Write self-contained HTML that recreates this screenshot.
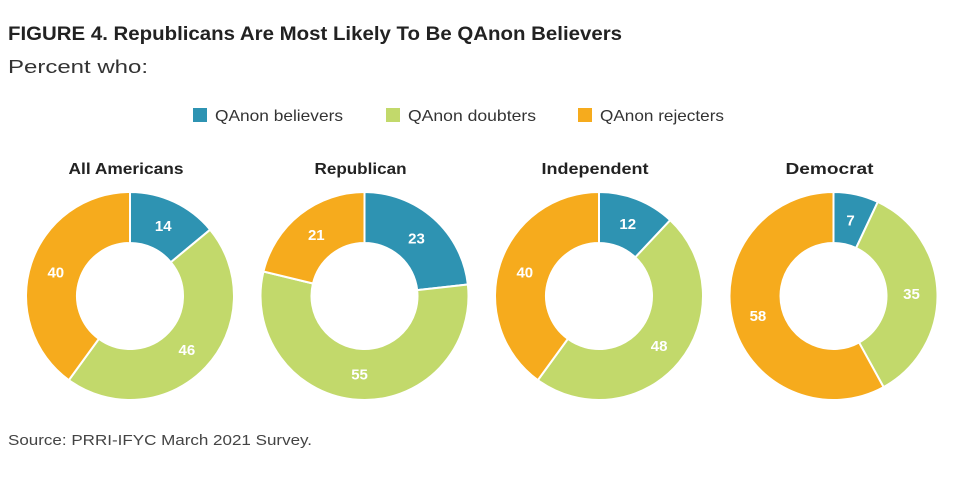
<!DOCTYPE html>
<html><head><meta charset="utf-8"><style>
body{margin:0;background:#fff;width:980px;height:473px;overflow:hidden;font-family:"Liberation Sans",sans-serif}
</style></head><body>
<svg width="980" height="473">
<text x="8" y="40" font-size="19" font-weight="bold" fill="#222" textLength="614" lengthAdjust="spacingAndGlyphs">FIGURE 4. Republicans Are Most Likely To Be QAnon Believers</text>
<text x="8" y="73" font-size="18" fill="#333" textLength="140" lengthAdjust="spacingAndGlyphs">Percent who:</text>
<g id="legend"></g>
<g id="donuts"></g>
<text x="8" y="445" font-size="14.5" fill="#444" textLength="304" lengthAdjust="spacingAndGlyphs">Source: PRRI-IFYC March 2021 Survey.</text>
</svg>
<script>
const groups=["All Americans","Republican","Independent","Democrat"];
const seriesNames=["QAnon believers","QAnon doubters","QAnon rejecters"];
const believers=[14,23,12,7];
const doubters=[46,55,48,35];
const rejecters=[40,21,40,58];
const colors=["#2E93B2","#C2D96B","#F6AB1D"];
const NS="http://www.w3.org/2000/svg";
function mk(t,a,p){const e=document.createElementNS(NS,t);for(const k in a)e.setAttribute(k,a[k]);p.appendChild(e);return e;}
const leg=document.getElementById('legend');
const legX=[193,386,578];
const legW=[128,128,124];
const titleW=[115,92,107,88];
seriesNames.forEach((n,i)=>{
 const r=mk('rect',{x:legX[i],y:108,width:14,height:14,fill:colors[i]},leg);
 
 
 const t=mk('text',{x:legX[i]+22,y:121,'font-size':16,fill:'#333',textLength:legW[i],lengthAdjust:'spacingAndGlyphs'},leg);
 t.textContent=n;
 
 
});
const dg=document.getElementById('donuts');
const cx0=130,dx=234.5,cy=296,R=104,r0=53;
function pt(rad,a){return [rad*Math.sin(a),-rad*Math.cos(a)];}
groups.forEach((g,gi)=>{
 const cx=cx0+gi*dx;
 const grp=mk('g',{},dg);
 
 
 const tt=mk('text',{x:cx-4,y:174,'text-anchor':'middle','font-size':16,'font-weight':'bold',fill:'#222',textLength:titleW[gi],lengthAdjust:'spacingAndGlyphs'},grp);
 tt.textContent=g;
 
 
 const vals=[believers[gi],doubters[gi],rejecters[gi]];
 const tot=vals.reduce((a,b)=>a+b,0);
 let a=0;
 vals.forEach((v,i)=>{
  const a1=a+v/tot*2*Math.PI;
  const [x1,y1]=pt(R,a),[x2,y2]=pt(R,a1),[x3,y3]=pt(r0,a1),[x4,y4]=pt(r0,a);
  const lg=(a1-a)>Math.PI?1:0;
  const d=`M${cx+x1},${cy+y1}A${R},${R} 0 ${lg} 1 ${cx+x2},${cy+y2}L${cx+x3},${cy+y3}A${r0},${r0} 0 ${lg} 0 ${cx+x4},${cy+y4}Z`;
  const p=mk('path',{d:d,fill:colors[i],stroke:'#fff','stroke-width':2},grp);
  
  
  const m=(a+a1)/2;const [lx,ly]=pt(78,m);
  const t=mk('text',{x:cx+lx,y:cy+ly+5.5,'text-anchor':'middle','font-size':15,'font-weight':'bold',fill:'#fff'},grp);
  t.textContent=v;
  
  
  a=a1;
 });
});
</script>
</body></html>
